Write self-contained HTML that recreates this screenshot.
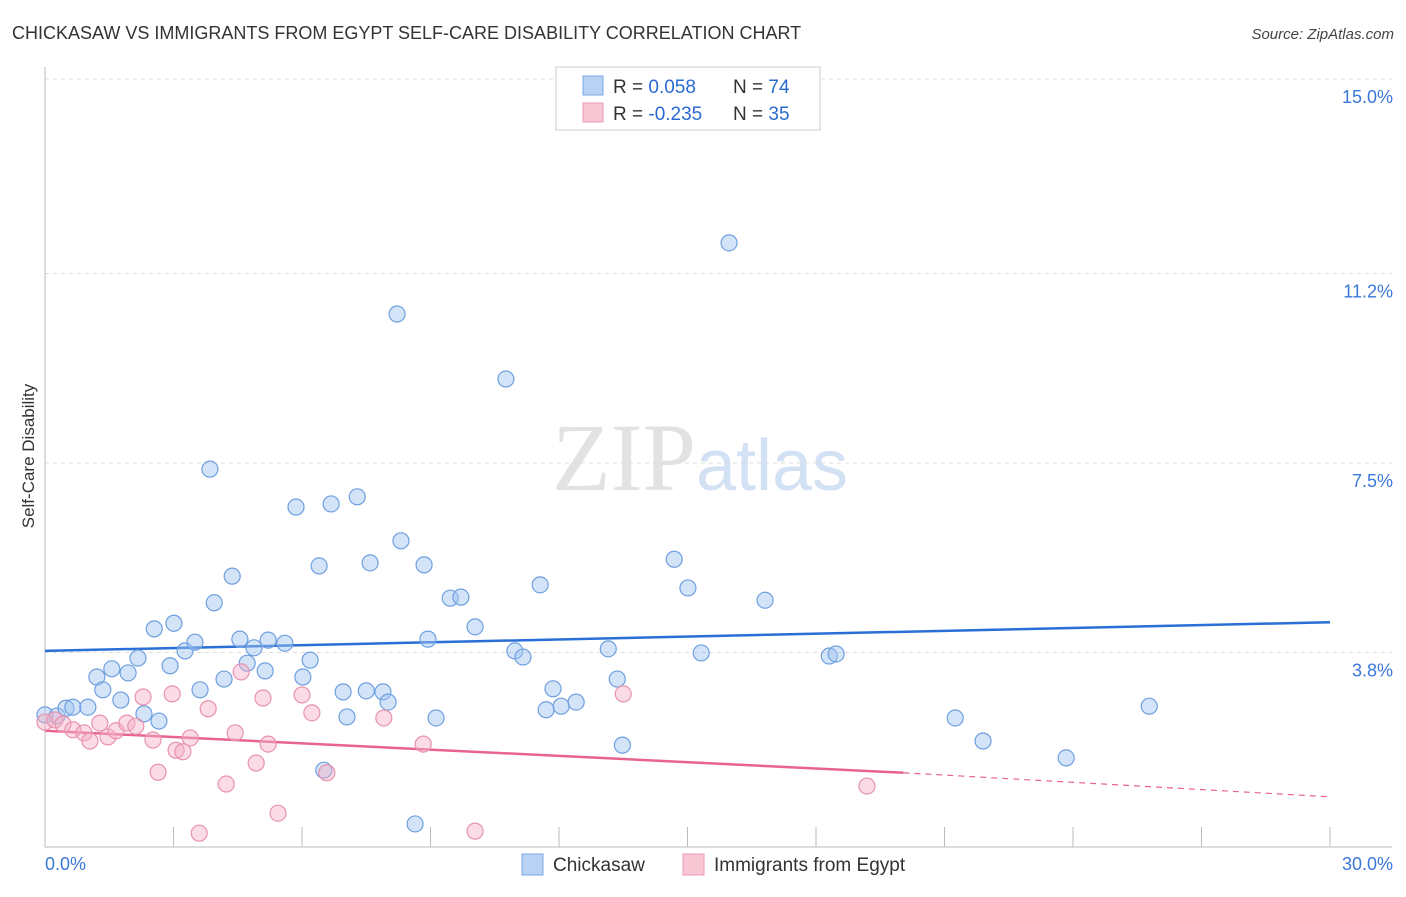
<!DOCTYPE html>
<html><head><meta charset="utf-8"><style>
body{margin:0;background:#fff;font-family:"Liberation Sans",sans-serif}
</style></head><body>
<svg id="chart" width="1406" height="892" xmlns="http://www.w3.org/2000/svg" font-family="Liberation Sans, sans-serif">
<text x="12" y="39" font-size="18" fill="#333">CHICKASAW VS IMMIGRANTS FROM EGYPT SELF-CARE DISABILITY CORRELATION CHART</text>
<text x="1394" y="39" font-size="15" fill="#444" text-anchor="end" font-style="italic">Source: ZipAtlas.com</text>
<text x="34" y="456" font-size="17" fill="#333" text-anchor="middle" transform="rotate(-90 34 456)">Self-Care Disability</text>
<text x="700" y="490" font-size="96" text-anchor="middle" fill="#e2e2e2" font-family="Liberation Serif, serif">ZIP<tspan fill="#d3e1f5" font-family="Liberation Sans, sans-serif" font-size="72">atlas</tspan></text>
<g id="grid"></g><g id="axes"></g><g id="trend"></g><g id="pts"></g>
<g>
<rect x="556" y="67" width="264" height="63" fill="#fff" stroke="#ccc"/>
<rect x="583" y="76" width="20" height="19" fill="#b8d2f4" stroke="#7aa8e4"/>
<rect x="583" y="103" width="20" height="19" fill="#f8c6d5" stroke="#ec9ab4"/>
<text x="613" y="93" font-size="19" fill="#333">R = <tspan fill="#2a6bd0"> 0.058</tspan><tspan x="733">N = </tspan><tspan fill="#2a6bd0">74</tspan></text>
<text x="613" y="120" font-size="19" fill="#333">R = <tspan fill="#2a6bd0">-0.235</tspan><tspan x="733">N = </tspan><tspan fill="#2a6bd0">35</tspan></text>
</g>
<g>
<rect x="522" y="854" width="21" height="21" fill="#b8d2f4" stroke="#7aa8e4"/>
<text x="553" y="871" font-size="19" fill="#333">Chickasaw</text>
<rect x="683" y="854" width="21" height="21" fill="#f8c6d5" stroke="#ec9ab4"/>
<text x="714" y="871" font-size="19" fill="#333">Immigrants from Egypt</text>
</g>
</svg>
<script>
const yTicks=[15.0,11.2,7.5,3.8];
const yTickLabels=["15.0%","11.2%","7.5%","3.8%"];
const xTickLabels=["0.0%","30.0%"];
const blueX=[0.00,0.28,0.49,0.65,1.00,1.21,1.35,1.56,1.77,1.94,2.17,2.31,2.55,2.66,2.92,3.01,3.27,3.50,3.62,3.85,3.95,4.18,4.37,4.55,4.72,4.88,5.14,5.21,5.60,5.86,6.02,6.19,6.40,6.51,6.68,6.96,7.05,7.29,7.50,7.59,7.89,8.01,8.22,8.31,8.64,8.85,8.94,9.13,9.46,9.71,10.04,10.76,10.97,11.16,11.56,11.70,11.86,12.05,12.40,13.15,13.36,13.48,14.69,15.01,15.32,15.97,16.81,18.31,18.47,21.25,21.90,23.84,25.78];
const blueY=[2.58,2.56,2.71,2.73,2.73,3.32,3.07,3.48,2.87,3.40,3.69,2.60,4.26,2.46,3.54,4.37,3.83,4.00,3.07,7.38,4.77,3.28,5.29,4.06,3.59,3.89,3.44,4.04,3.98,6.64,3.32,3.65,5.49,1.50,6.70,3.03,2.54,6.84,3.05,5.55,3.03,2.83,10.41,5.98,0.45,5.51,4.06,2.52,4.86,4.88,4.30,9.14,3.83,3.71,5.12,2.68,3.09,2.75,2.83,3.87,3.28,1.99,5.62,5.06,3.79,11.80,4.82,3.73,3.77,2.52,2.07,1.74,2.75];
const pinkX=[0.00,0.23,0.42,0.65,0.91,1.05,1.28,1.47,1.66,1.91,2.12,2.29,2.52,2.64,2.97,3.06,3.22,3.39,3.60,3.81,4.23,4.44,4.58,4.93,5.09,5.21,5.44,6.00,6.23,6.58,7.91,8.83,10.04,13.50,19.19];
const pinkY=[2.44,2.48,2.40,2.29,2.23,2.07,2.42,2.15,2.27,2.42,2.36,2.93,2.09,1.46,2.99,1.89,1.86,2.13,0.27,2.70,1.23,2.23,3.42,1.64,2.91,2.01,0.66,2.97,2.62,1.45,2.52,2.01,0.31,2.99,1.19];
const blueTrend=[3.83,4.39];
const pinkTrend=[2.27,1.45,0.98];
const pinkSolidEnd=20.04;
const NS="http://www.w3.org/2000/svg";
const sx=v=>45+v*1285/30, sy=v=>847-v*51.2;
function mk(p,t,a){const e=document.createElementNS(NS,t);for(const k in a)e.setAttribute(k,a[k]);document.getElementById(p).appendChild(e);return e;}
yTicks.forEach((t,i)=>{
 const l=mk('grid','line',{x1:45,x2:1392,y1:sy(t),y2:sy(t),stroke:'#ddd','stroke-dasharray':'4,4'});
 
 
 const tx=mk('grid','text',{x:1393,y:sy(t)+24,'font-size':18,fill:'#3a78d8','text-anchor':'end'});
 tx.textContent=yTickLabels[i];
 
 
});
const ax=mk('axes','line',{x1:45,x2:45,y1:67,y2:847,stroke:'#bbb'});


const bx=mk('axes','line',{x1:45,x2:1392,y1:847,y2:847,stroke:'#bbb'});


for(let i=0;i<=10;i++){const t=mk('axes','line',{x1:sx(i*3),x2:sx(i*3),y1:827,y2:847,stroke:'#bbb'});
 
 }
[[0,'start',45],[30,'end',1393]].forEach((d,i)=>{const t=mk('axes','text',{x:d[2],y:870,'font-size':18,fill:'#3a78d8','text-anchor':d[1]});t.textContent=xTickLabels[i];
 
 });
const bt=mk('trend','line',{x1:sx(0),y1:sy(blueTrend[0]),x2:sx(30),y2:sy(blueTrend[1]),stroke:'#2a6fd6','stroke-width':2.5});


const pt=mk('trend','line',{x1:sx(0),y1:sy(pinkTrend[0]),x2:sx(pinkSolidEnd),y2:sy(pinkTrend[1]),stroke:'#e8648e','stroke-width':2.5});


const pd=mk('trend','line',{x1:sx(pinkSolidEnd),y1:sy(pinkTrend[1]),x2:sx(30),y2:sy(pinkTrend[2]),stroke:'#e8648e','stroke-width':1.2,'stroke-dasharray':'6,5'});


blueX.forEach((x,i)=>{const c=mk('pts','circle',{cx:sx(x),cy:sy(blueY[i]),r:8,fill:'rgba(160,195,240,0.45)',stroke:'#6e9fe0','stroke-width':1.2});
 
 });
pinkX.forEach((x,i)=>{const c=mk('pts','circle',{cx:sx(x),cy:sy(pinkY[i]),r:8,fill:'rgba(245,175,200,0.45)',stroke:'#e892b0','stroke-width':1.2});
 
 });
</script>
</body></html>
